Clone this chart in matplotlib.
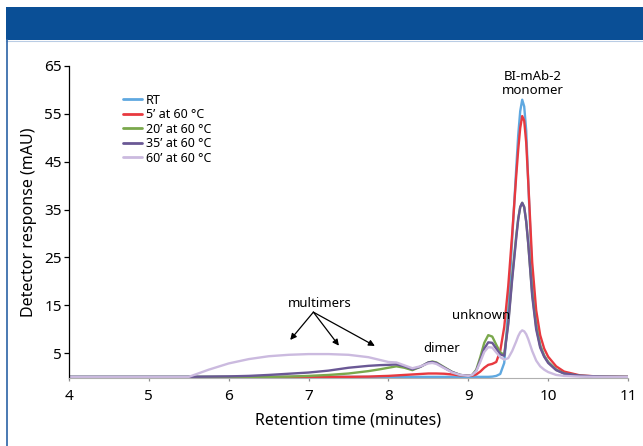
import matplotlib.pyplot as plt
from matplotlib.patches import Rectangle
from matplotlib.lines import Line2D

plt.rcParams['font.family'] = ['Noto Sans', 'DejaVu Sans']

# Retention time grid (minutes) shared by all traces
time_min = [4.0, 5.0, 5.5, 5.75, 6.0, 6.25, 6.5, 6.75, 7.0, 7.25, 7.5, 7.75, 7.9,
            8.0, 8.1, 8.2, 8.3, 8.4, 8.5, 8.55, 8.6, 8.7, 8.8, 8.9,
            9.0, 9.05, 9.1, 9.15, 9.2, 9.25, 9.3, 9.35, 9.4, 9.45, 9.5, 9.55,
            9.6, 9.625, 9.65, 9.675, 9.7, 9.725, 9.75, 9.8, 9.85, 9.9, 9.95,
            10.0, 10.1, 10.2, 10.4, 10.6, 11.0]

# Detector response (mAU) per sample condition
rt = [0.1, 0.1, 0.1, 0.1, 0.1, 0.1, 0.1, 0.1, 0.1, 0.1, 0.1, 0.1, 0.1,
      0.1, 0.1, 0.1, 0.1, 0.1, 0.1, 0.1, 0.1, 0.1, 0.1, 0.1,
      0.1, 0.1, 0.1, 0.1, 0.1, 0.1, 0.15, 0.3, 0.7, 3.0, 14.0, 29.0,
      43.5, 50.5, 55.5, 57.9, 56.5, 51.5, 41.0, 21.0, 11.5, 6.8, 4.5,
      3.2, 1.6, 0.8, 0.3, 0.15, 0.1]
min5 = [0.05, 0.05, 0.05, 0.05, 0.05, 0.05, 0.05, 0.08, 0.1, 0.1, 0.1, 0.15, 0.25,
        0.3, 0.4, 0.5, 0.6, 0.7, 0.8, 0.8, 0.8, 0.75, 0.6, 0.4,
        0.3, 0.35, 0.6, 1.2, 2.0, 2.6, 2.8, 3.2, 5.5, 10.5, 19.0, 30.0,
        42.0, 47.5, 52.0, 54.5, 53.5, 49.0, 41.0, 24.0, 14.0, 8.8, 6.0,
        4.3, 2.3, 1.2, 0.4, 0.2, 0.1]
min20 = [0.1, 0.1, 0.1, 0.1, 0.1, 0.1, 0.1, 0.15, 0.3, 0.5, 0.8, 1.3, 1.7,
         2.0, 2.3, 2.0, 1.5, 2.2, 3.1, 3.3, 3.1, 2.1, 1.1, 0.5,
         0.3, 0.5, 1.6, 4.2, 7.2, 8.8, 8.5, 6.8, 5.2, 4.7, 11.5, 21.0,
         29.5, 33.0, 35.5, 36.4, 35.5, 32.5, 28.0, 17.5, 10.5, 6.5, 4.5,
         3.2, 1.6, 0.8, 0.3, 0.2, 0.1]
min35 = [0.1, 0.1, 0.1, 0.15, 0.2, 0.3, 0.5, 0.75, 1.0, 1.4, 2.0, 2.4, 2.55,
         2.6, 2.7, 2.3, 1.7, 2.2, 3.1, 3.2, 3.0, 2.0, 1.1, 0.5,
         0.3, 0.5, 1.4, 3.6, 6.0, 7.3, 7.2, 6.0, 4.8, 4.5, 11.0, 20.5,
         29.0, 33.0, 35.5, 36.4, 35.5, 32.5, 28.0, 17.0, 10.0, 6.2, 4.3,
         3.0, 1.5, 0.8, 0.35, 0.2, 0.1]
min60 = [0.1, 0.1, 0.1, 1.6, 2.9, 3.8, 4.4, 4.7, 4.85, 4.85, 4.7, 4.2, 3.6,
         3.2, 3.1, 2.5, 1.9, 2.3, 2.9, 3.0, 2.8, 1.9, 1.0, 0.5,
         0.3, 0.5, 1.3, 3.2, 5.3, 6.3, 6.2, 5.2, 4.2, 3.7, 4.0, 5.5,
         7.5, 8.6, 9.4, 9.8, 9.6, 9.0, 8.0, 5.5, 3.5, 2.3, 1.6,
         1.1, 0.5, 0.3, 0.15, 0.1, 0.1]

labels = ['RT', '5\u2019 at 60 \u00b0C', '20\u2019 at 60 \u00b0C',
          '35\u2019 at 60 \u00b0C', '60\u2019 at 60 \u00b0C']
colors = ['#5fa8e0', '#e8393f', '#7aa84c', '#6a5895', '#cbbadf']
x_ticks = [4, 5, 6, 7, 8, 9, 10, 11]
y_ticks = [5, 15, 25, 35, 45, 55, 65]

fig = plt.figure(figsize=(6.43, 4.46), dpi=100)

# blue banner and left rule
fig.patches.append(Rectangle((0.0093, 0.9103), 0.9907, 0.074, transform=fig.transFigure,
                             facecolor='#0a4f96', edgecolor='none', zorder=0))
fig.add_artist(Line2D([0.0093, 1.0], [0.909, 0.909], transform=fig.transFigure,
                      color='#b9cce4', lw=0.8))
fig.add_artist(Line2D([0.0109, 0.0109], [0.0, 0.9103], transform=fig.transFigure,
                      color='#2a62a6', lw=1.2))

ax = fig.add_axes([0.1073, 0.1518, 0.8694, 0.7009])
for series, lab, col in zip([rt, min5, min20, min35, min60], labels, colors):
    ax.plot(time_min, series, color=col, lw=1.7, label=lab, solid_capstyle='round')

ax.set_xlim(4, 11)
ax.set_ylim(-0.2, 65)
ax.set_xticks(x_ticks)
ax.set_yticks(y_ticks)
ax.spines['top'].set_visible(False)
ax.spines['right'].set_visible(False)
ax.spines['bottom'].set_color('#b0b0b0')
ax.spines['left'].set_linewidth(0.9)
ax.tick_params(axis='y', length=3.6, width=0.9, pad=1.5, labelsize=11)
ax.tick_params(axis='x', length=2.5, width=0.9, color='#909090', pad=5, labelsize=11)
ax.set_xlabel('Retention time (minutes)', fontsize=11.5, labelpad=6)
ax.set_ylabel('Detector response (mAU)', fontsize=11.5, labelpad=5)

leg = ax.legend(loc='upper left', bbox_to_anchor=(0.1913, 0.79),
                bbox_transform=fig.transFigure, frameon=False, fontsize=9,
                handlelength=1.5, handletextpad=0.35, labelspacing=0.12,
                borderpad=0, borderaxespad=0)
for h in leg.get_lines():
    h.set_linewidth(2)

# peak annotations
ax.text(9.81, 58.4, 'BI-mAb-2\nmonomer', ha='center', va='bottom', fontsize=9.5,
        linespacing=1.15)
ax.text(8.66, 4.6, 'dimer', ha='center', va='bottom', fontsize=9.5)
ax.text(9.165, 11.5, 'unknown', ha='center', va='bottom', fontsize=9.5)
ax.text(7.14, 14.0, 'multimers', ha='center', va='bottom', fontsize=9.5)
for tip in [(6.77, 7.8), (7.38, 6.6), (7.83, 6.55)]:
    ax.annotate('', xy=tip, xytext=(7.06, 13.6),
                arrowprops=dict(arrowstyle='-|>', color='black', lw=0.9,
                                mutation_scale=9, shrinkA=0, shrinkB=0))

fig.savefig('out.png', dpi=100)
